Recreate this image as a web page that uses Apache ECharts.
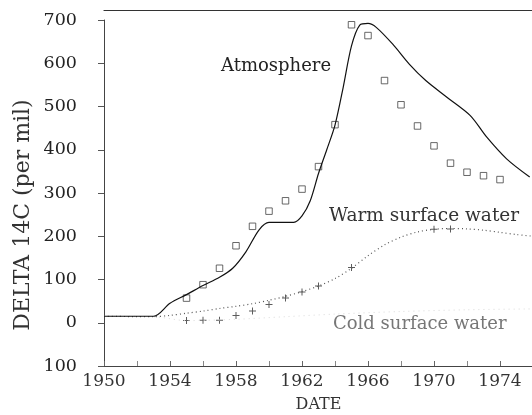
<!DOCTYPE html>
<html>
<head>
<meta charset="utf-8">
<script src="https://cdn.jsdelivr.net/npm/echarts@6/dist/echarts.min.js"></script>
<style>html,body{margin:0;padding:0;background:#fff;}#c{width:532px;height:415px;}</style>
</head>
<body>
<div id="c"></div>
<script>
// Atmosphere model curve (solid line)
const atmYears  = [1950,1953,1954,1955,1956,1957,1957.8,1958.6,1959.4,1960,1961.5,1962,1962.5,1963,1963.5,1964,1964.5,1965,1965.5,1966,1966.5,1967.5,1968.5,1969.5,1970.8,1972.2,1973.2,1974.4,1975.8];
const atmValues = [15,15,45,65,86,105,126,164,215,232,232,247,282,345,400,457,545,640,688,692,683,644,598,560,521,479,429,379,337];
// Atmosphere observations (squares)
const obsYears  = [1955,1956,1957,1958,1959,1960,1961,1962,1963,1964,1965,1966,1967,1968,1969,1970,1971,1972,1973,1974];
const obsValues = [57,88,126,178,223,258,282,309,361,458,689,664,560,504,455,409,369,348,340,331];
// Warm surface water model curve (dotted)
const warmYears  = [1950,1953,1954,1955,1956,1957,1958,1959,1960,1961,1962,1963,1964,1965,1966,1967,1968,1969,1970,1971,1972,1973,1974,1975,1976];
const warmValues = [15,14,17,22,27,33,38,44,52,61,72,85,102,126,155,180,198,210,216,218,217,214,209,204,200];
// Surface water observations (plus markers)
const plusYears  = [1955,1956,1957,1958,1959,1960,1961,1962,1963,1965,1970,1971];
const plusValues = [5,6,6,17,27,42,57,71,85,128,216,217];
// Cold surface water model curve (faint dotted)
const coldYears  = [1950,1953,1955,1958,1961,1964,1968,1972,1976];
const coldValues = [15,14,5,8,14,20,26,30,32];
// Axis tick labels
const xTickLabels = {1950:'1950',1954:'1954',1958:'1958',1962:'1962',1966:'1966',1970:'1970',1974:'1974'};
const yTickLabels = {'-100':'100',0:'0',100:'100',200:'200',300:'300',400:'400',500:'500',600:'600',700:'700'};

const pair = (xs, ys) => xs.map((x, i) => [x, ys[i]]);
const serif = 'DejaVu Serif';

const chart = echarts.init(document.getElementById('c'), null, {renderer: 'canvas'});
chart.setOption({
  animation: false,
  backgroundColor: '#fff',
  grid: {left: 104, top: 20, width: 429, bottom: 49, containLabel: false, outerBoundsMode: 'none'},
  xAxis: [{
    type: 'value', min: 1950, max: 1976, interval: 4,
    name: 'DATE', nameLocation: 'middle', nameGap: 31,
    nameTextStyle: {fontFamily: serif, fontSize: 16, color: '#333'},
    axisLine: {onZero: false, lineStyle: {color: '#444', width: 1}},
    axisTick: {show: true, inside: true, length: 5, lineStyle: {color: '#666'}},
    minorTick: {show: true, splitNumber: 2, length: 5, lineStyle: {color: '#888'}},
    axisLabel: {fontFamily: serif, fontSize: 17, color: '#333', margin: 7, showMaxLabel: false,
      formatter: v => xTickLabels[v] || ''},
    splitLine: {show: false}
  }, {
    type: 'value', min: 1950, max: 1976, position: 'top', offset: 10,
    axisLine: {show: true, onZero: false, lineStyle: {color: '#333', width: 1.2}},
    axisTick: {show: false}, axisLabel: {show: false}, splitLine: {show: false}
  }],
  yAxis: {
    type: 'value', min: -100, max: 700, interval: 100,
    axisLine: {show: true, onZero: false, lineStyle: {color: '#444', width: 1}},
    axisTick: {show: true, length: 6, lineStyle: {color: '#555'}},
    axisLabel: {fontFamily: serif, fontSize: 17.5, color: '#222', margin: 27,
      formatter: v => yTickLabels[v] !== undefined ? yTickLabels[v] : ''},
    splitLine: {show: false}
  },
  series: [{
    name: 'Cold surface water', type: 'line', data: pair(coldYears, coldValues),
    smooth: 0.3, symbol: 'none', lineStyle: {color: '#dcdcdc', width: 1, type: [1, 4]}
  }, {
    name: 'Warm surface water', type: 'line', data: pair(warmYears, warmValues),
    smooth: 0.3, symbol: 'none', lineStyle: {color: '#555', width: 1.2, type: [1, 3]}
  }, {
    name: 'Atmosphere', type: 'line', data: pair(atmYears, atmValues),
    smooth: 0.3, symbol: 'none', lineStyle: {color: '#111', width: 1.2}
  }, {
    name: 'Atmosphere obs', type: 'scatter', data: pair(obsYears, obsValues),
    symbol: 'rect', symbolSize: 6.5,
    itemStyle: {color: '#fff', borderColor: '#444', borderWidth: 1}
  }, {
    name: 'Water obs', type: 'scatter', data: pair(plusYears, plusValues),
    symbol: 'path://M3,0h1v3h3v1h-3v3h-1v-3h-3v-1h3z', symbolSize: 7,
    itemStyle: {color: '#333'}
  }],
  graphic: [
    {type: 'text', x: 23, y: 215, rotation: Math.PI / 2,
      style: {text: 'DELTA 14C (per mil)', font: '22px "DejaVu Serif"', fill: '#333', align: 'center', verticalAlign: 'middle'}},
    {type: 'text', left: 221, top: 57, style: {text: 'Atmosphere', font: '18px "DejaVu Serif"', fill: '#222'}},
    {type: 'text', left: 329, top: 207, style: {text: 'Warm surface water', font: '18.5px "DejaVu Serif"', fill: '#333'}},
    {type: 'text', left: 333, top: 315, style: {text: 'Cold surface water', font: '18px "DejaVu Serif"', fill: '#777'}}
  ]
});
</script>
</body>
</html>
